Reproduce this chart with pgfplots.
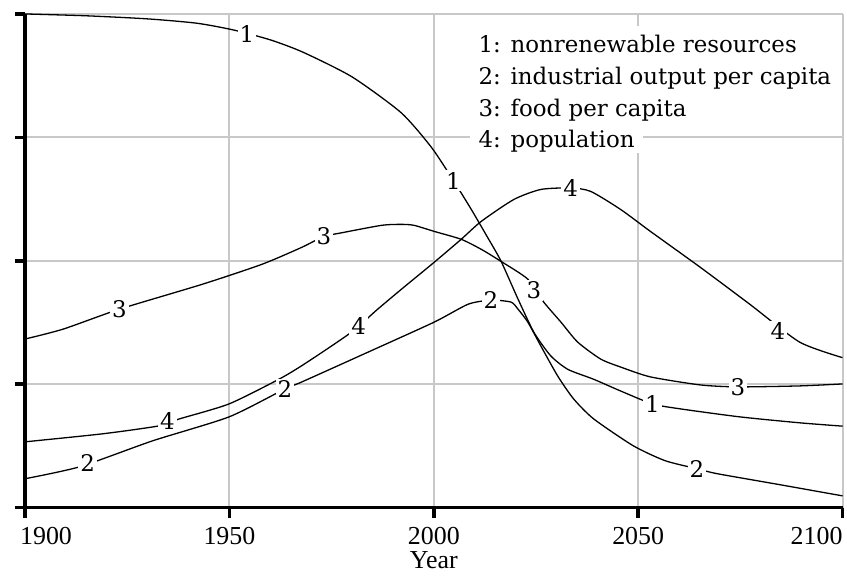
\documentclass[border=0pt]{standalone}
\usepackage{pgfplots}
\pgfplotsset{compat=1.18}
\usepackage{fontspec}
\setmainfont{DejaVu Serif}
\newfontfamily\tickfont{Liberation Serif}
\definecolor{gridgray}{RGB}{200,200,200}
\newcommand{\legbox}[1]{\colorbox{white}{\rule{0pt}{27pt}\rule[-4.7pt]{0pt}{4.7pt}\hspace{9pt}#1\hspace{8pt}}}
\begin{document}
\setlength{\fboxsep}{0pt}
\begin{tikzpicture}
\tikzset{lab/.style={fill=white, inner sep=2pt, font=\fontsize{23}{23}\selectfont}}
\begin{axis}[
  at={(0,0)}, anchor=south west,
  scale only axis, width=820.5pt, height=495.5pt,
  xmin=1900, xmax=2100, ymin=0, ymax=4,
  axis x line*=bottom, axis y line*=left,
  axis line style={line width=3.5pt, black},
  xtick={1900,1950,2000,2050,2100},
  xticklabels={\makebox[0pt][l]{\hspace{-5pt}1900},1950,2000,2050,\makebox[0pt][r]{2100}},
  ytick={0,1,2,3,4}, yticklabel=\empty,
  tick align=outside, major tick length=10pt,
  tick style={line width=3.5pt, black},
  grid=major, major grid style={line width=2pt, gridgray},
  xticklabel style={font=\tickfont\fontsize{26}{26}\selectfont, yshift=-6pt},
  xlabel={Year},
  every axis x label/.style={at={(axis description cs:0.5,0)}, anchor=north, inner sep=1pt, yshift=-43pt, font=\tickfont\fontsize{26}{26}\selectfont},
  legend style={at={(0.5436,0.9758)}, anchor=north west, draw=none, fill=none, inner sep=0pt, row sep=0pt, column sep=0pt, nodes={inner sep=0pt, text depth=}, font=\fontsize{23}{32}\selectfont},
  legend cell align=left,
  legend image code/.code={},
]
\addplot[black, line width=1.3pt, smooth, tension=0.4] table {
1900 4.000
1915 3.985
1930 3.960
1942 3.925
1951 3.870
1960 3.79
1968 3.69
1980 3.49
1992 3.20
1999.4 2.92
2004.8 2.65
2009.1 2.42
2012.8 2.21
2016.4 2.00
2020.6 1.69
2024.5 1.42
2028.6 1.23
2032.8 1.12
2039.1 1.04
2045.7 0.945
2053.5 0.84
2060.3 0.80
2074.9 0.735
2089.5 0.687
2100 0.66
};
\addlegendentry{\legbox{1: nonrenewable resources}}
\addplot[black, line width=1.3pt, smooth, tension=0.4] table {
1900 0.234
1913.4 0.331
1931.2 0.541
1949.9 0.735
1963.6 0.962
1967.7 1.018
1984.0 1.261
2000.1 1.503
2008.4 1.648
2014.0 1.681
2018.9 1.665
2020.6 1.608
2023.0 1.503
2026.2 1.309
2030.3 1.067
2034.2 0.881
2039.1 0.719
2048.8 0.501
2056.6 0.380
2064.4 0.315
2069.3 0.275
2084.6 0.186
2100 0.095
};
\addlegendentry{\legbox{2: industrial output per capita}}
\addplot[black, line width=1.3pt, smooth, tension=0.4] table {
1900 1.366
1909.3 1.446
1923.1 1.608
1943.4 1.810
1958.0 1.972
1967.7 2.109
1973.1 2.198
1976.7 2.222
1987.2 2.287
1992.1 2.295
1995.2 2.287
2000.1 2.238
2006.7 2.174
2011.6 2.093
2016.4 1.996
2023.0 1.851
2026.9 1.665
2031.1 1.503
2035.2 1.341
2040.8 1.204
2045.7 1.139
2053.0 1.059
2065.2 0.994
2074.4 0.978
2089.5 0.986
2100 1.002
};
\addlegendentry{\legbox{3: food per capita}}
\addplot[black, line width=1.3pt, smooth, tension=0.4] table {
1900 0.533
1919.0 0.598
1932.9 0.663
1937.8 0.719
1949.9 0.840
1962.1 1.040
1967.7 1.150
1975.0 1.310
1980.6 1.440
1986.0 1.600
1992.1 1.770
2000.1 1.988
2006.7 2.174
2011.6 2.319
2019.6 2.497
2026.2 2.578
2033.5 2.59
2038.4 2.562
2045.7 2.416
2053.0 2.238
2065.2 1.947
2077.3 1.648
2089.5 1.341
2100 1.215
};
\addlegendentry{\legbox{4: population}}
\node[lab] at (axis cs:1954.3,3.84) {1};
\node[lab] at (axis cs:2004.8,2.65) {1};
\node[lab] at (axis cs:2053.5,0.84) {1};
\node[lab] at (axis cs:1915.3,0.36) {2};
\node[lab] at (axis cs:1963.6,0.96) {2};
\node[lab] at (axis cs:2014.0,1.68) {2};
\node[lab] at (axis cs:2064.4,0.31) {2};
\node[lab] at (axis cs:1923.1,1.61) {3};
\node[lab] at (axis cs:1973.1,2.20) {3};
\node[lab] at (axis cs:2024.5,1.76) {3};
\node[lab] at (axis cs:2074.4,0.978) {3};
\node[lab] at (axis cs:1934.8,0.70) {4};
\node[lab] at (axis cs:1981.6,1.47) {4};
\node[lab] at (axis cs:2033.5,2.59) {4};
\node[lab] at (axis cs:2084.2,1.43) {4};
\end{axis}
\pgfresetboundingbox
\path (-22pt,-68.5pt) rectangle (825pt,509.5pt);
\end{tikzpicture}
\end{document}
